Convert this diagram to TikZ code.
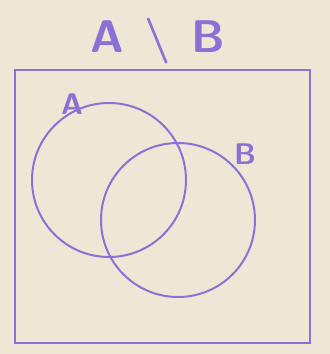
\documentclass[tikz,border=0pt]{standalone}
\usepackage{tikz}
\usepackage{xcolor}
\definecolor{ink}{RGB}{140,112,214}
\definecolor{paper}{RGB}{237,232,214}
\tikzstyle{universe} = [rectangle, minimum width=295bp, minimum height=273bp, draw=ink, line width=2.2pt]
\tikzstyle{setcircle} = [circle, minimum size=154bp, draw=ink, line width=2pt]
\tikzstyle{setlabel} = [text=ink, font=\sffamily\bfseries\fontsize{30}{30}\selectfont]
\tikzstyle{heading} = [text=ink, font=\sffamily\bfseries\fontsize{46}{46}\selectfont]

\begin{document}
\begin{tikzpicture}[inner sep=1pt, x=1bp, y=-1bp]
	
	\fill[paper] (0, 0) rectangle (330, 354);
	\useasboundingbox (0, 0) rectangle (330, 354);
	
	\node(title) at (158, 41) [heading] {A\hspace{0.45em}\textbackslash\hspace{0.45em}B};
	\node(U) at (162.5, 206.5) [universe] {};
	\node(setA) at (109, 180) [setcircle] {};
	\node(setB) at (178, 220) [setcircle] {};
	\node(labA) at (72, 104) [setlabel] {A};
	\node(labB) at (245, 154) [setlabel] {B};
\end{tikzpicture}
\end{document}
